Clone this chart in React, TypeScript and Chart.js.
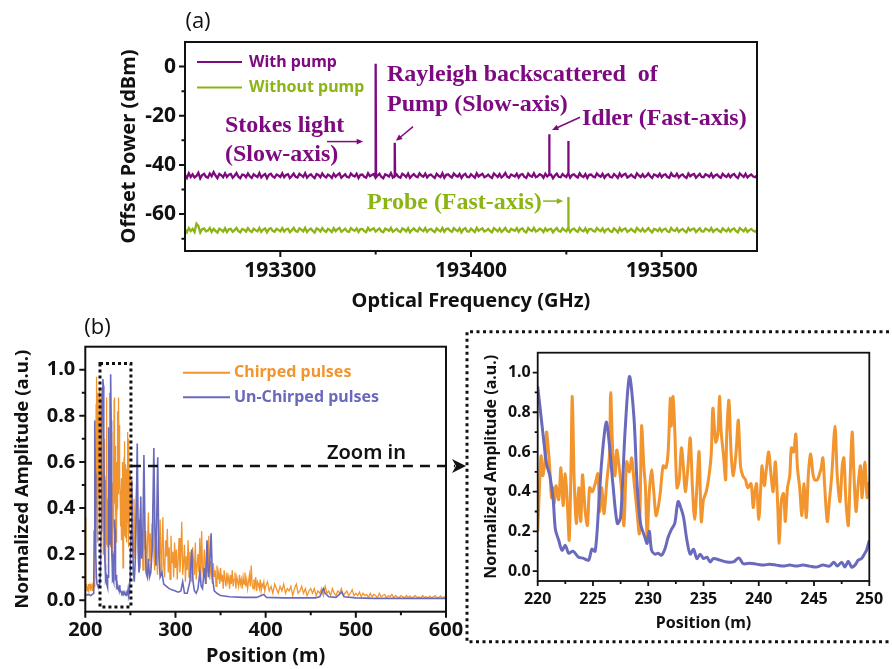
import React, { useEffect, useRef } from 'react';
import { Chart, registerables } from 'chart.js';
Chart.register(...registerables);

const SANS = "'Noto Sans', 'Open Sans', 'DejaVu Sans', sans-serif";
const SANS_A = "'Open Sans', 'Noto Sans', sans-serif";
const SERIF = "'Liberation Serif', 'Times New Roman', serif";
const PURPLE = '#7E0A80';
const GREEN = '#8CB414';
const ORANGE = '#F2952F';
const BLUE = '#6A6ABD';

// ---------------- (a) spectrum ----------------
const freqStart = 193250;
const freqStep = 1;
const withPump = [
  -44.0, -45.3, -43.4, -44.9, -43.8, -45.1, -44.5, -43.2, -45.5, -44.1, -43.6, -44.8, -45.2, -43.5, -44.6, -42.9, -44.3, -45.4, -43.7, -44.2, -45.0, -43.4, -44.9, -44.0, -43.7,
  -45.2, -44.4, -43.3, -44.8, -45.4, -43.9, -44.1, -45.0, -43.5, -44.6, -45.3, -43.8, -44.4, -44.9, -43.3, -45.1, -44.2, -43.7, -45.4, -44.0, -43.6, -44.7, -45.2, -43.9, -44.3,
  -44.9, -43.4, -45.0, -44.1, -43.8, -45.3, -44.5, -43.5, -44.8, -45.1, -43.6, -44.2, -44.9, -43.4, -45.2, -44.3, -43.8, -44.7, -45.4, -43.7, -44.1, -45.0, -43.5, -44.6, -45.1,
  -43.9, -44.4, -45.3, -43.6, -44.8, -44.0, -43.4, -45.2, -44.5, -43.8, -44.9, -45.1, -43.5, -44.3, -44.7, -43.6, -45.3, -44.0, -43.9, -44.8, -45.2, -43.4, -44.6, -44.1, -43.7,
  -45.0, -44.3, -43.6, -44.9, -45.4, -43.8, -44.2, -44.7, -43.3, -45.1, -44.5, -43.9, -44.8, -45.2, -43.6, -44.1, -44.9, -43.5, -45.3, -44.4, -43.7, -44.6, -45.0, -43.4, -44.3,
  -44.8, -43.5, -45.1, -44.2, -43.9, -44.7, -45.3, -43.6, -44.4, -44.9, -43.4, -45.2, -44.0, -43.8, -44.6, -45.1, -43.5, -44.3, -44.8, -43.7, -45.3, -44.1, -43.6, -44.9, -45.0,
  -43.8, -44.5, -45.2, -43.4, -44.7, -44.1, -43.6, -45.0, -44.6, -43.9, -44.8, -45.3, -43.5, -44.2, -44.9, -43.7, -45.1, -44.4, -43.3, -44.8, -45.2, -43.9, -44.3, -44.7, -43.6,
  -45.1, -44.0, -43.7, -44.9, -45.3, -43.5, -44.4, -44.8, -43.4, -45.0, -44.6, -43.8, -44.2, -45.2, -43.6, -44.7, -44.1, -43.9, -45.4, -44.3, -43.5, -44.8, -45.0, -43.7, -44.4,
  -44.9, -43.6, -45.2, -44.1, -43.8, -44.6, -45.1, -43.4, -44.5, -44.9, -43.7, -45.3, -44.0, -43.9, -44.7, -45.0, -43.5, -44.3, -44.8, -43.6, -45.2, -44.2, -43.8, -44.9, -45.1,
  -43.7, -44.4, -45.3, -43.5, -44.8, -44.0, -43.6, -45.1, -44.6, -43.9, -44.7, -45.2, -43.4, -44.3, -44.9, -43.8, -45.0, -44.5, -43.5, -44.6, -45.3, -43.9, -44.2, -44.8, -43.6,
  -45.0, -44.1, -43.8, -44.9, -45.2, -43.4, -44.5, -44.7, -43.6, -45.1, -44.3, -43.9, -44.8, -45.3, -43.5, -44.6, -44.0, -43.7, -45.2, -44.4, -43.6, -44.9, -45.0, -43.8, -44.2,
  -44.8, -43.5, -45.1, -44.3, -43.9, -44.7, -45.2, -43.6, -44.4, -44.9, -43.8, -45.0, -44.1, -43.7, -44.8, -45.3, -43.5, -44.2, -44.9, -43.6, -45.1, -44.4, -43.9, -44.7, -45.0,
  -44.2,
];
const withoutPump = [
  -66.2, -67.4, -65.7, -66.9, -66.0, -67.3, -63.9, -64.8, -67.5, -66.1, -65.8, -67.0, -66.7, -65.6, -67.2, -66.0, -66.8, -67.5, -65.9, -66.4, -67.1, -65.7, -67.3, -66.2, -66.0,
  -67.2, -66.5, -65.6, -66.9, -67.4, -66.0, -66.3, -67.1, -65.7, -66.7, -67.3, -65.9, -66.5, -67.0, -65.6, -67.2, -66.3, -65.8, -67.4, -66.1, -65.7, -66.8, -67.2, -66.0, -66.4,
  -67.0, -65.7, -67.1, -66.2, -65.9, -67.3, -66.6, -65.6, -66.9, -67.2, -65.8, -66.3, -67.0, -65.6, -67.3, -66.4, -65.9, -66.8, -67.5, -65.8, -66.2, -67.1, -65.7, -66.7, -67.2,
  -66.0, -66.5, -67.3, -65.7, -66.9, -66.1, -65.6, -67.2, -66.6, -65.9, -67.0, -67.2, -65.7, -66.4, -66.8, -65.8, -67.3, -66.1, -66.0, -66.9, -67.3, -65.6, -66.7, -66.2, -65.8,
  -67.1, -66.4, -65.8, -67.0, -67.4, -65.9, -66.3, -66.8, -65.6, -67.2, -66.6, -66.0, -66.9, -67.3, -65.8, -66.2, -67.0, -65.7, -67.4, -66.5, -65.8, -66.7, -67.1, -65.6, -66.4,
  -66.9, -65.7, -67.2, -66.3, -66.0, -66.8, -67.3, -65.8, -66.5, -67.0, -65.6, -67.2, -66.1, -65.9, -66.7, -67.2, -65.7, -66.4, -66.9, -65.8, -67.4, -66.2, -65.7, -67.0, -67.1,
  -65.9, -66.6, -67.3, -65.6, -66.8, -66.2, -65.8, -67.1, -66.7, -66.0, -66.9, -67.4, -65.7, -66.3, -67.0, -65.8, -67.2, -66.5, -65.6, -66.9, -67.3, -66.0, -66.4, -66.8, -65.7,
  -67.2, -66.1, -65.8, -67.0, -67.4, -65.7, -66.5, -66.9, -65.6, -67.1, -66.7, -65.9, -66.3, -67.3, -65.8, -66.8, -66.2, -66.0, -67.4, -66.4, -65.7, -66.9, -67.1, -65.8, -66.5,
  -67.0, -65.8, -67.3, -66.2, -65.9, -66.7, -67.2, -65.6, -66.6, -67.0, -65.8, -67.4, -66.1, -66.0, -66.8, -67.1, -65.7, -66.4, -66.9, -65.8, -67.3, -66.3, -65.9, -67.0, -67.2,
  -65.8, -66.5, -67.4, -65.7, -66.9, -66.1, -65.8, -67.2, -66.7, -66.0, -66.8, -67.3, -65.6, -66.4, -67.0, -65.9, -67.1, -66.6, -65.7, -66.7, -67.4, -66.0, -66.3, -66.9, -65.8,
  -67.1, -66.2, -65.9, -67.0, -67.3, -65.6, -66.6, -66.8, -65.8, -67.2, -66.4, -66.0, -66.9, -67.4, -65.7, -66.7, -66.1, -65.9, -67.3, -66.5, -65.8, -67.0, -67.1, -65.9, -66.3,
  -66.9, -65.7, -67.2, -66.4, -66.0, -66.8, -67.3, -65.8, -66.5, -67.0, -65.9, -67.1, -66.2, -65.8, -66.9, -67.4, -65.7, -66.3, -67.0, -65.8, -67.2, -66.5, -66.0, -66.8, -67.1,
  -66.4,
];
const pumpPeakFreq = [193350, 193360, 193441, 193451];
const pumpPeakPower = [1.2, -31, -27.5, -30.3];
const probePeakFreq = [193451];
const probePeakPower = [-53];
const freqTicks = [193300, 193400, 193500];
const freqMinor = [193350, 193450];
const powerTicks = [-60, -40, -20, 0];
const powerMinor = [-70, -50, -30, -10];

// ---------------- (b) position traces ----------------
const chirpedHeadStart = 200;
const chirpedHeadStep = 0.5;
const chirpedHead = [
  0.36, 0.07, 0.05, 0.07, 0.04, 0.06, 0.05, 0.07, 0.04, 0.06, 0.05, 0.07, 0.04, 0.06, 0.05, 0.06, 0.04, 0.06, 0.05, 0.07,
  0.06, 0.30, 0.55, 0.40, 0.85, 0.97, 0.35, 0.90, 0.25, 0.80, 0.45, 0.92, 0.30, 0.75, 0.50, 0.88, 0.35, 0.70, 0.40, 0.55,
];
const chirpedMidStart = 251;
const chirpedMidStep = 1;
const chirpedMid = [
  0.48, 0.30, 0.21, 0.44, 0.18, 0.35, 0.52, 0.24, 0.15, 0.31, 0.40, 0.19, 0.27, 0.13, 0.36, 0.22, 0.30, 0.12, 0.25, 0.38, 0.17, 0.29, 0.14, 0.33, 0.42,
  0.20, 0.13, 0.31, 0.24, 0.11, 0.27, 0.18, 0.35, 0.12, 0.22, 0.36, 0.15, 0.10, 0.26, 0.19, 0.31, 0.12, 0.23, 0.09, 0.28, 0.16, 0.21, 0.10, 0.25, 0.14,
  0.22, 0.09, 0.18, 0.27, 0.12, 0.20, 0.34, 0.11, 0.16, 0.24, 0.08, 0.19, 0.13, 0.26, 0.10, 0.21, 0.14, 0.08, 0.23, 0.17, 0.11, 0.25, 0.09, 0.15, 0.20,
  0.12, 0.27, 0.08, 0.30, 0.14, 0.10, 0.22, 0.16, 0.07, 0.19, 0.12, 0.28, 0.09, 0.17, 0.11, 0.07, 0.16, 0.10, 0.13, 0.06, 0.15, 0.09, 0.12, 0.07, 0.14,
  0.08, 0.11, 0.05, 0.13, 0.09, 0.06, 0.12, 0.08, 0.10, 0.05, 0.11, 0.07, 0.13, 0.06, 0.09, 0.12, 0.05, 0.10, 0.08, 0.06, 0.11, 0.07, 0.09, 0.05, 0.10,
  0.07, 0.12, 0.06, 0.09, 0.05, 0.08, 0.11, 0.06, 0.15, 0.07, 0.05, 0.09, 0.06, 0.10, 0.04, 0.08, 0.07, 0.05, 0.09, 0.04, 0.07, 0.06, 0.08, 0.04, 0.06,
];
const chirpedTailStart = 402;
const chirpedTailStep = 2;
const chirpedTail = [
  0.08, 0.04, 0.06, 0.03, 0.07, 0.05, 0.03, 0.06, 0.04, 0.07, 0.03, 0.05, 0.04, 0.06, 0.02, 0.05, 0.07, 0.03, 0.04, 0.06, 0.03, 0.05, 0.02, 0.04, 0.05,
  0.03, 0.05, 0.02, 0.04, 0.03, 0.05, 0.02, 0.06, 0.03, 0.04, 0.02, 0.05, 0.03, 0.02, 0.04, 0.03, 0.05, 0.02, 0.03, 0.04, 0.02, 0.03, 0.045, 0.02, 0.03,
  0.02, 0.035, 0.015, 0.03, 0.02, 0.025, 0.01, 0.03, 0.015, 0.025, 0.02, 0.01, 0.03, 0.015, 0.02, 0.025, 0.01, 0.02, 0.015, 0.025, 0.01, 0.02, 0.015, 0.01, 0.02,
  0.015, 0.01, 0.02, 0.012, 0.018, 0.008, 0.015, 0.02, 0.01, 0.015, 0.008, 0.02, 0.012, 0.015, 0.008, 0.018, 0.01, 0.015, 0.02, 0.01, 0.012, 0.018, 0.008, 0.015, 0.012,
];
const unchirpedHeadX = [200, 203, 206, 209.3, 209.9, 210.3, 210.7, 211.1, 211.6, 212.3, 213, 214, 215, 216, 216.8, 217.5, 218.2, 218.8, 219.5];
const unchirpedHeadY = [0.02, 0.025, 0.02, 0.03, 0.3, 0.65, 0.78, 0.55, 0.2, 0.1, 0.07, 0.06, 0.06, 0.07, 0.12, 0.3, 0.7, 0.92, 0.96];
const unchirpedTailX = [
  250.8, 251.6, 252.4, 253.3, 254.3, 255.5, 256.6, 257.6, 258.5, 259.5, 260.5, 261.5, 262.5, 263.6, 265, 266.2, 267.4, 268.8, 270, 271.2,
  272.6, 274.2, 276, 277.2, 278.4, 280.3, 281.6, 283, 285, 287, 290, 293, 296, 300, 303, 306, 308, 310, 313, 316,
  318, 319.5, 321, 323, 325, 327, 328.5, 330, 332, 333.5, 335, 336.5, 338, 339.5, 341, 343, 346, 350, 360, 375,
  390, 398, 401, 420, 440, 455, 460, 464, 466, 470, 478, 484.5, 487, 500, 520, 540, 560, 580, 600,
];
const unchirpedTailY = [
  0.3, 0.52, 0.3, 0.12, 0.08, 0.18, 0.4, 0.68, 0.35, 0.12, 0.15, 0.45, 0.18, 0.22, 0.63, 0.3, 0.12, 0.1, 0.18, 0.1,
  0.12, 0.22, 0.66, 0.3, 0.15, 0.62, 0.2, 0.1, 0.12, 0.07, 0.06, 0.05, 0.045, 0.04, 0.035, 0.04, 0.08, 0.03, 0.03, 0.08,
  0.22, 0.08, 0.04, 0.03, 0.05, 0.12, 0.06, 0.05, 0.14, 0.07, 0.26, 0.1, 0.15, 0.29, 0.1, 0.04, 0.03, 0.02, 0.015, 0.012,
  0.012, 0.025, 0.012, 0.01, 0.01, 0.01, 0.015, 0.05, 0.03, 0.015, 0.012, 0.035, 0.015, 0.01, 0.008, 0.008, 0.008, 0.008, 0.008,
];

// zoomed window 220-250 m
const zoomChirpedX = [
  220.0, 220.15, 220.3, 220.45, 220.65, 220.8, 220.95, 221.1, 221.25, 221.4, 221.5, 221.65, 221.9, 222.1, 222.3, 222.5, 222.7, 222.85, 223.0, 223.13,
  223.3, 223.5, 223.7, 223.9, 224.05, 224.3, 224.5, 224.7, 224.95, 225.2, 225.45, 225.6, 225.8, 226.0, 226.25, 226.5, 226.6, 226.8, 227.0, 227.15,
  227.4, 227.6, 227.8, 228.05, 228.3, 228.5, 228.7, 228.95, 229.2, 229.4, 229.6, 229.75, 229.9, 230.1, 230.3, 230.5, 230.7, 230.9, 231.1, 231.35,
  231.6, 231.8, 232.0, 232.1, 232.25, 232.4, 232.6, 232.8, 233.0, 233.15, 233.35, 233.6, 233.8, 234.0, 234.2, 234.4, 234.6, 234.8, 235.0, 235.25,
  235.5, 235.7, 235.85, 236.1, 236.3, 236.45, 236.6, 236.8, 237.0, 237.1, 237.3, 237.5, 237.7, 237.95, 238.15, 238.35, 238.55, 238.8, 239.0, 239.3,
  239.5, 239.65, 239.8, 240.0, 240.2, 240.3, 240.5, 240.7, 240.9, 241.1, 241.3, 241.5, 241.7, 241.85, 242.05, 242.25, 242.4, 242.6, 242.8, 242.95,
  243.15, 243.35, 243.5, 243.7, 243.9, 244.1, 244.3, 244.5, 244.7, 244.9, 245.05, 245.3, 245.5, 245.65, 245.8, 245.95, 246.2, 246.4, 246.6, 246.9,
  247.1, 247.35, 247.55, 247.7, 247.9, 248.1, 248.25, 248.45, 248.6, 248.8, 249.0, 249.2, 249.35, 249.6, 249.8, 250.0,
];
const zoomChirpedY = [
  0.20, 0.41, 0.58, 0.48, 0.55, 0.70, 0.62, 0.51, 0.37, 0.42, 0.34, 0.43, 0.36, 0.52, 0.33, 0.49, 0.32, 0.155, 0.48, 0.88,
  0.46, 0.24, 0.42, 0.25, 0.485, 0.30, 0.23, 0.42, 0.40, 0.44, 0.49, 0.30, 0.42, 0.29, 0.45, 0.59, 0.90, 0.59, 0.48, 0.61,
  0.51, 0.40, 0.23, 0.55, 0.50, 0.57, 0.46, 0.32, 0.19, 0.73, 0.53, 0.42, 0.17, 0.40, 0.51, 0.40, 0.28, 0.32, 0.40, 0.53,
  0.52, 0.60, 0.87, 0.73, 0.88, 0.71, 0.42, 0.46, 0.62, 0.55, 0.40, 0.53, 0.67, 0.42, 0.26, 0.42, 0.60, 0.25, 0.36, 0.40,
  0.48, 0.59, 0.82, 0.65, 0.69, 0.88, 0.70, 0.59, 0.46, 0.68, 0.86, 0.59, 0.48, 0.60, 0.76, 0.53, 0.48, 0.46, 0.42, 0.44,
  0.32, 0.40, 0.44, 0.26, 0.44, 0.53, 0.43, 0.52, 0.60, 0.49, 0.40, 0.55, 0.35, 0.14, 0.36, 0.39, 0.25, 0.42, 0.48, 0.62,
  0.60, 0.69, 0.52, 0.42, 0.28, 0.44, 0.27, 0.50, 0.59, 0.49, 0.46, 0.46, 0.49, 0.52, 0.57, 0.44, 0.25, 0.36, 0.48, 0.73,
  0.48, 0.35, 0.53, 0.57, 0.34, 0.23, 0.44, 0.70, 0.50, 0.30, 0.44, 0.53, 0.37, 0.55, 0.37, 0.45,
];
const zoomUnchirpedX = [
  220.0, 220.5, 220.8, 221.1, 221.4, 221.6, 221.9, 222.2, 222.5, 222.8, 223.2, 223.7, 224.1, 224.6, 224.9, 225.2, 225.5, 225.8, 226.2, 226.5,
  226.8, 227.2, 227.5, 227.9, 228.3, 228.7, 229.0, 229.3, 229.7, 229.9, 230.1, 230.3, 230.6, 230.9, 231.2, 231.5, 231.8, 232.1, 232.4, 232.7,
  233.0, 233.2, 233.5, 233.8, 234.1, 234.4, 234.7, 235.0, 235.3, 235.6, 235.9, 236.5, 237.1, 237.7, 238.2, 238.6, 239.2, 239.8, 240.4, 241.0,
  241.6, 242.2, 242.8, 243.4, 244.0, 244.6, 245.2, 245.8, 246.4, 246.8, 247.1, 247.5, 247.8, 248.1, 248.4, 248.7, 249.0, 249.3, 249.6, 249.75, 250.0,
];
const zoomUnchirpedY = [
  0.93, 0.68, 0.54, 0.48, 0.36, 0.21, 0.155, 0.105, 0.13, 0.09, 0.10, 0.07, 0.065, 0.055, 0.11, 0.10, 0.31, 0.56, 0.75, 0.63,
  0.44, 0.24, 0.27, 0.70, 0.98, 0.78, 0.43, 0.24, 0.17, 0.14, 0.20, 0.105, 0.085, 0.09, 0.08, 0.11, 0.17, 0.21, 0.24, 0.35,
  0.31, 0.27, 0.155, 0.085, 0.11, 0.063, 0.085, 0.063, 0.07, 0.046, 0.063, 0.055, 0.046, 0.046, 0.066, 0.037, 0.04, 0.035, 0.03, 0.035,
  0.03, 0.025, 0.03, 0.025, 0.03, 0.025, 0.02, 0.03, 0.025, 0.045, 0.025, 0.045, 0.02, 0.05, 0.02, 0.03, 0.055, 0.063, 0.09, 0.105, 0.155,
];
const posTicks = [200, 300, 400, 500, 600];
const posMinor = [250, 350, 450, 550];
const ampTicks = [0, 0.2, 0.4, 0.6, 0.8, 1.0];
const ampMinor = [0.1, 0.3, 0.5, 0.7, 0.9];
const zoomTicks = [220, 225, 230, 235, 240, 245, 250];
const zoomMinor = [222.5, 227.5, 232.5, 237.5, 242.5, 247.5];

// ---------------- helpers ----------------
function pairs(xs: number[], ys: number[]) {
  const n = Math.min(xs.length, ys.length);
  const out: any[] = [];
  for (let i = 0; i < n; i++) out.push({ x: xs[i], y: ys[i] });
  return out;
}
function gridPairs(start: number, step: number, ys: number[]) {
  return ys.map((y, i) => ({ x: start + i * step, y }));
}
function spectrum(values: number[], peakF: number[], peakP: number[]) {
  const pts = gridPairs(freqStart, freqStep, values);
  peakF.forEach((f, k) => {
    const idx = Math.round((f - freqStart) / freqStep);
    const base = values[idx];
    pts.push({ x: f - 0.2, y: base }, { x: f, y: peakP[k] }, { x: f + 0.2, y: base });
  });
  pts.sort((a, b) => a.x - b.x);
  return pts;
}

function arrow(ctx: any, x1: number, y1: number, x2: number, y2: number, color: string, lw: number, head: number) {
  const ang = Math.atan2(y2 - y1, x2 - x1);
  ctx.save();
  ctx.strokeStyle = color;
  ctx.fillStyle = color;
  ctx.lineWidth = lw;
  ctx.beginPath();
  ctx.moveTo(x1, y1);
  ctx.lineTo(x2 - Math.cos(ang) * head * 0.7, y2 - Math.sin(ang) * head * 0.7);
  ctx.stroke();
  ctx.beginPath();
  ctx.moveTo(x2, y2);
  ctx.lineTo(x2 - head * Math.cos(ang - 0.42), y2 - head * Math.sin(ang - 0.42));
  ctx.lineTo(x2 - head * Math.cos(ang + 0.42), y2 - head * Math.sin(ang + 0.42));
  ctx.closePath();
  ctx.fill();
  ctx.restore();
}

function makeFrame(cfg: any) {
  return {
    id: 'frame',
    afterDatasetsDraw(chart: any) {
      const { ctx, chartArea: a, scales } = chart;
      const xs = scales.x;
      const ys = scales.y;
      ctx.save();
      ctx.strokeStyle = '#111';
      ctx.lineWidth = cfg.lw;
      ctx.strokeRect(a.left, a.top, a.right - a.left, a.bottom - a.top);
      ctx.beginPath();
      const xt = (vals: number[], len: number) => vals.forEach((v) => {
        const p = xs.getPixelForValue(v);
        ctx.moveTo(p, a.bottom);
        ctx.lineTo(p, a.bottom + len);
      });
      const yt = (vals: number[], len: number) => vals.forEach((v) => {
        const p = ys.getPixelForValue(v);
        ctx.moveTo(a.left, p);
        ctx.lineTo(a.left - len, p);
      });
      xt(cfg.xMajor, cfg.major);
      xt(cfg.xMinor, cfg.minor);
      yt(cfg.yMajor, cfg.major);
      yt(cfg.yMinor, cfg.minor);
      ctx.stroke();
      ctx.restore();
    },
  };
}

function axis(min: number, max: number, ticks: number[], fmt: (v: number) => string, font: any, pad: number, size: number, horizontal: boolean, title: string, titleFont: any, titlePad: any) {
  return {
    type: 'linear',
    min,
    max,
    afterBuildTicks: (s: any) => { s.ticks = ticks.map((v) => ({ value: v })); },
    afterFit: (s: any) => { if (horizontal) s.height = size; else s.width = size; },
    grid: { display: false, drawTicks: false },
    border: { display: false },
    ticks: { autoSkip: false, maxRotation: 0, padding: pad, color: '#111', font, callback: (v: any) => fmt(Number(v)) },
    title: { display: true, text: title, color: '#111', font: titleFont, padding: titlePad },
  };
}

const baseOpts = {
  responsive: false,
  animation: false,
  events: [],
  plugins: { legend: { display: false }, tooltip: { enabled: false } },
};

export default function App() {
  const refA = useRef<HTMLCanvasElement>(null);
  const refB = useRef<HTMLCanvasElement>(null);
  const refC = useRef<HTMLCanvasElement>(null);

  useEffect(() => {
    const charts: any[] = [];

    // ---------- chart (a) ----------
    const annA = {
      id: 'annA',
      afterDraw(chart: any) {
        const { ctx } = chart;
        const xs = chart.scales.x;
        const ys = chart.scales.y;
        ctx.save();
        ctx.font = `normal 22px ${SANS_A}`;
        ctx.fillStyle = '#111';
        ctx.textBaseline = 'middle';
        ctx.textAlign = 'center';
        ctx.fillText('(a)', 198, 22);
        // legend
        ctx.textAlign = 'left';
        ctx.lineWidth = 2;
        ctx.strokeStyle = PURPLE;
        ctx.beginPath(); ctx.moveTo(197, 62); ctx.lineTo(242, 62); ctx.stroke();
        ctx.strokeStyle = GREEN;
        ctx.beginPath(); ctx.moveTo(197, 87.5); ctx.lineTo(242, 87.5); ctx.stroke();
        ctx.font = `bold 16px ${SANS}`;
        ctx.fillStyle = PURPLE;
        ctx.fillText('With pump', 249, 62);
        ctx.fillStyle = GREEN;
        ctx.fillText('Without pump', 249, 87.5);
        // serif annotations
        ctx.textBaseline = 'alphabetic';
        ctx.font = `bold 24px ${SERIF}`;
        ctx.fillStyle = PURPLE;
        ctx.fillText('Rayleigh backscattered  of', 387, 81);
        ctx.fillText('Pump (Slow-axis)', 387, 111);
        ctx.fillText('Idler (Fast-axis)', 582, 125);
        ctx.fillText('Stokes light', 225, 132);
        ctx.fillText('(Slow-axis)', 225, 161);
        ctx.fillStyle = GREEN;
        ctx.fillText('Probe (Fast-axis)', 367, 209);
        const P = (f: number, p: number) => [xs.getPixelForValue(f), ys.getPixelForValue(p)];
        const arr = (f1: number, p1: number, f2: number, p2: number, c: string) => {
          const [a1, b1] = P(f1, p1);
          const [a2, b2] = P(f2, p2);
          arrow(ctx, a1, b1, a2, b2, c, 1.5, 7);
        };
        arr(193324.5, -30.5, 193343.4, -30.5, PURPLE);
        arr(193369.6, -24.4, 193360.6, -30.2, PURPLE);
        arr(193457.2, -20.6, 193442.5, -25.8, PURPLE);
        arr(193437.8, -54.7, 193448.4, -54.7, GREEN);
        ctx.restore();
      },
    };
    charts.push(new Chart(refA.current as any, {
      type: 'line',
      data: {
        datasets: [
          { data: spectrum(withPump, pumpPeakFreq, pumpPeakPower), borderColor: PURPLE, borderWidth: 2.3, pointRadius: 0, tension: 0 },
          { data: spectrum(withoutPump, probePeakFreq, probePeakPower), borderColor: GREEN, borderWidth: 2.3, pointRadius: 0, tension: 0 },
        ],
      },
      options: {
        ...baseOpts,
        layout: { padding: { left: 0, top: 42, right: 135, bottom: 0 } },
        scales: {
          x: axis(193250, 193550, freqTicks, (v) => String(v), { family: SANS, size: 21, weight: 'bold' }, 7.4, 69, true,
            'Optical Frequency (GHz)', { family: SANS, size: 20, weight: 'bold' }, { top: 0, bottom: 7 }),
          y: axis(-75, 10, powerTicks, (v) => String(v), { family: SANS, size: 21, weight: 'bold' }, 9, 185, false,
            'Offset Power (dBm)', { family: SANS, size: 20, weight: 'bold' }, { top: 117, bottom: 0 }),
        },
      } as any,
      plugins: [makeFrame({ lw: 2, major: 6, minor: 3.5, xMajor: freqTicks, xMinor: freqMinor, yMajor: powerTicks, yMinor: powerMinor }), annA],
    } as any));

    // ---------- chart (b) overview ----------
    const chirpedAll = [
      ...gridPairs(chirpedHeadStart, chirpedHeadStep, chirpedHead),
      ...pairs(zoomChirpedX, zoomChirpedY),
      ...gridPairs(chirpedMidStart, chirpedMidStep, chirpedMid),
      ...gridPairs(chirpedTailStart, chirpedTailStep, chirpedTail),
    ];
    const unchirpedAll = [
      ...pairs(unchirpedHeadX, unchirpedHeadY),
      ...pairs(zoomUnchirpedX, zoomUnchirpedY),
      ...pairs(unchirpedTailX, unchirpedTailY),
    ];
    const annB = {
      id: 'annB',
      afterDraw(chart: any) {
        const { ctx } = chart;
        const xs = chart.scales.x;
        const ys = chart.scales.y;
        ctx.save();
        ctx.fillStyle = '#111';
        ctx.textBaseline = 'middle';
        ctx.textAlign = 'center';
        ctx.font = `normal 22px ${SANS_A}`;
        ctx.fillText('(b)', 97.5, 18);
        // legend
        ctx.textAlign = 'left';
        ctx.lineWidth = 2;
        ctx.strokeStyle = ORANGE;
        ctx.beginPath(); ctx.moveTo(183, 62.7); ctx.lineTo(230, 62.7); ctx.stroke();
        ctx.strokeStyle = BLUE;
        ctx.beginPath(); ctx.moveTo(183, 87.3); ctx.lineTo(230, 87.3); ctx.stroke();
        ctx.font = `bold 16px ${SANS}`;
        ctx.fillStyle = ORANGE;
        ctx.fillText('Chirped pulses', 234, 62.7);
        ctx.fillStyle = BLUE;
        ctx.fillText('Un-Chirped pulses', 234, 87.3);
        // dotted selection box
        const bx1 = xs.getPixelForValue(216.3);
        const bx2 = xs.getPixelForValue(250.6);
        const by1 = ys.getPixelForValue(1.027);
        const by2 = ys.getPixelForValue(-0.03);
        ctx.strokeStyle = '#111';
        ctx.lineWidth = 3;
        ctx.setLineDash([3, 3]);
        ctx.strokeRect(bx1, by1, bx2 - bx1, by2 - by1);
        // dashed zoom arrow
        const ay = ys.getPixelForValue(0.582);
        ctx.lineWidth = 2.5;
        ctx.setLineDash([10, 7]);
        ctx.beginPath(); ctx.moveTo(bx2, ay); ctx.lineTo(455, ay); ctx.stroke();
        ctx.setLineDash([]);
        ctx.fillStyle = '#111';
        ctx.beginPath();
        ctx.moveTo(466, ay);
        ctx.lineTo(452, ay - 7);
        ctx.lineTo(456, ay);
        ctx.lineTo(452, ay + 7);
        ctx.closePath();
        ctx.fill();
        ctx.font = `600 20px ${SANS}`;
        ctx.fillText('Zoom in', 327, ay - 13);
        ctx.restore();
      },
    };
    charts.push(new Chart(refB.current as any, {
      type: 'line',
      data: {
        datasets: [
          { data: chirpedAll, borderColor: ORANGE, borderWidth: 1.3, pointRadius: 0, tension: 0, order: 2 },
          { data: unchirpedAll, borderColor: BLUE, borderWidth: 1.6, pointRadius: 0, tension: 0, order: 1 },
        ],
      },
      options: {
        ...baseOpts,
        layout: { padding: { left: 0, top: 36.7, right: 24, bottom: 0 } },
        scales: {
          x: axis(200, 600, posTicks, (v) => String(v), { family: SANS, size: 20, weight: 'bold' }, 6.3, 57.3, true,
            'Position (m)', { family: SANS, size: 20, weight: 'bold' }, { top: 0, bottom: 1 }),
          y: axis(-0.05, 1.1, ampTicks, (v) => v.toFixed(1), { family: SANS, size: 20, weight: 'bold' }, 10, 85.3, false,
            'Normalized Amplitude (a.u.)', { family: SANS, size: 18.5, weight: 'bold' }, { top: 11.9, bottom: 0 }),
        },
      } as any,
      plugins: [makeFrame({ lw: 2, major: 6, minor: 3.5, xMajor: posTicks, xMinor: posMinor, yMajor: ampTicks, yMinor: ampMinor }), annB],
    } as any));

    // ---------- chart (b) zoom ----------
    const annC = {
      id: 'annC',
      afterDraw(chart: any) {
        const { ctx } = chart;
        ctx.save();
        ctx.strokeStyle = '#111';
        ctx.lineWidth = 3;
        ctx.setLineDash([3, 3.5]);
        ctx.beginPath();
        ctx.moveTo(440, 6.7); ctx.lineTo(5, 6.7); ctx.lineTo(5, 316.7); ctx.lineTo(440, 316.7);
        ctx.stroke();
        ctx.restore();
      },
    };
    charts.push(new Chart(refC.current as any, {
      type: 'line',
      data: {
        datasets: [
          { data: pairs(zoomChirpedX, zoomChirpedY), borderColor: ORANGE, borderWidth: 3, pointRadius: 0, tension: 0.3, order: 2 },
          { data: pairs(zoomUnchirpedX, zoomUnchirpedY), borderColor: BLUE, borderWidth: 3, pointRadius: 0, tension: 0.3, order: 1 },
        ],
      },
      options: {
        ...baseOpts,
        layout: { padding: { left: 0, top: 27.7, right: 22.7, bottom: 0 } },
        scales: {
          x: axis(220, 250, zoomTicks, (v) => String(v), { family: SANS, size: 16, weight: 'bold' }, 8.4, 69, true,
            'Position (m)', { family: SANS, size: 16, weight: 'bold' }, { top: 0, bottom: 17.1 }),
          y: axis(-0.05, 1.1, ampTicks, (v) => v.toFixed(1), { family: SANS, size: 16, weight: 'bold' }, 7, 75.7, false,
            'Normalized Amplitude (a.u.)', { family: SANS, size: 16, weight: 'bold' }, { top: 19.4, bottom: 0 }),
        },
      } as any,
      plugins: [makeFrame({ lw: 1.8, major: 5, minor: 3, xMajor: zoomTicks, xMinor: zoomMinor, yMajor: ampTicks, yMinor: ampMinor }), annC],
    } as any));

    return () => { charts.forEach((c) => c.destroy()); };
  }, []);

  return (
    <div style={{ position: 'absolute', left: 0, top: 0, width: 892, height: 669, background: '#fff', overflow: 'hidden' }}>
      <canvas ref={refA} width={892} height={320} style={{ position: 'absolute', left: 0, top: 0 }} />
      <canvas ref={refB} width={470} height={359} style={{ position: 'absolute', left: 0, top: 310 }} />
      <canvas ref={refC} width={430} height={325} style={{ position: 'absolute', left: 462, top: 325 }} />
    </div>
  );
}
